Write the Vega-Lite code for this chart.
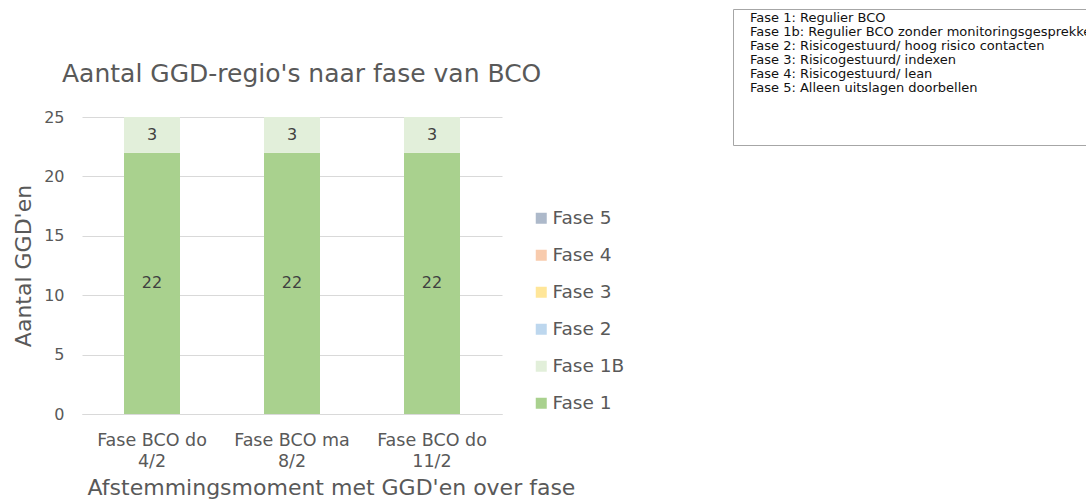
{
  "$schema": "https://vega.github.io/schema/vega-lite/v6.json",
  "autosize": "none",
  "width": 420,
  "height": 297,
  "padding": {"left": 82, "top": 117, "right": 584, "bottom": 90},
  "background": "white",
  "config": {
    "font": "DejaVu Sans",
    "view": {"stroke": null},
    "axis": {"labelColor": "#595959", "titleColor": "#595959", "titleFontWeight": "normal"}
  },
  "title": {
    "text": "Aantal GGD-regio's naar fase van BCO",
    "fontSize": 25,
    "fontWeight": "normal",
    "color": "#595959",
    "anchor": "start",
    "frame": "group",
    "dx": -20,
    "offset": -78
  },
  "datasets": {
    "fasen": [
      {"moment": "Fase BCO do 4/2", "fase": "Fase 1", "aantal": 22},
      {"moment": "Fase BCO do 4/2", "fase": "Fase 1B", "aantal": 3},
      {"moment": "Fase BCO ma 8/2", "fase": "Fase 1", "aantal": 22},
      {"moment": "Fase BCO ma 8/2", "fase": "Fase 1B", "aantal": 3},
      {"moment": "Fase BCO do 11/2", "fase": "Fase 1", "aantal": 22},
      {"moment": "Fase BCO do 11/2", "fase": "Fase 1B", "aantal": 3}
    ],
    "toelichting": [
      {"omschrijving": "Fase 1: Regulier BCO"},
      {"omschrijving": "Fase 1b: Regulier BCO zonder monitoringsgesprekken"},
      {"omschrijving": "Fase 2: Risicogestuurd/ hoog risico contacten"},
      {"omschrijving": "Fase 3: Risicogestuurd/ indexen"},
      {"omschrijving": "Fase 4: Risicogestuurd/ lean"},
      {"omschrijving": "Fase 5: Alleen uitslagen doorbellen"}
    ]
  },
  "layer": [
    {
      "data": {"name": "fasen"},
      "mark": {"type": "bar"},
      "encoding": {
        "x": {
          "field": "moment",
          "type": "nominal",
          "sort": null,
          "scale": {"paddingInner": 0.6, "paddingOuter": 0.3},
          "axis": {
            "title": "Afstemmingsmoment met GGD'en over fase",
            "titleFontSize": 22,
            "titlePadding": 8,
            "titleX": 249,
            "labelAngle": 0,
            "labelFontSize": 17.5,
            "labelLineHeight": 21,
            "labelPadding": 17,
            "labelExpr": "[substring(datum.label, 0, lastindexof(datum.label, ' ')), substring(datum.label, lastindexof(datum.label, ' ') + 1)]",
            "ticks": false,
            "domainColor": "#d9d9d9",
            "domainWidth": 1
          }
        },
        "y": {
          "field": "aantal",
          "type": "quantitative",
          "stack": "zero",
          "scale": {"domain": [0, 25], "nice": false},
          "axis": {
            "title": "Aantal GGD'en",
            "titleFontSize": 22,
            "titlePadding": 8,
            "values": [0, 5, 10, 15, 20, 25],
            "labelFontSize": 16,
            "labelPadding": 18,
            "ticks": false,
            "domain": false,
            "gridColor": "#d9d9d9"
          }
        },
        "color": {
          "field": "fase",
          "type": "nominal",
          "scale": {
            "domain": ["Fase 5", "Fase 4", "Fase 3", "Fase 2", "Fase 1B", "Fase 1"],
            "range": ["#ADB9CA", "#F8CBAD", "#FFE699", "#BDD7EE", "#E2EFDA", "#A9D18E"]
          },
          "legend": {
            "title": null,
            "orient": "none",
            "legendX": 450,
            "legendY": 92,
            "symbolType": "square",
            "symbolSize": 121,
            "symbolStrokeWidth": 0,
            "labelFontSize": 18.5,
            "labelColor": "#595959",
            "labelOffset": 2,
            "rowPadding": 18
          }
        },
        "order": {"field": "fase", "sort": "ascending"}
      }
    },
    {
      "data": {"name": "fasen"},
      "mark": {"type": "text", "fontSize": 16, "color": "#404040", "baseline": "middle"},
      "encoding": {
        "x": {"field": "moment", "type": "nominal", "sort": null},
        "y": {"field": "aantal", "type": "quantitative", "stack": "zero", "bandPosition": 0.5},
        "detail": {"field": "fase"},
        "order": {"field": "fase", "sort": "ascending"},
        "text": {"field": "aantal", "type": "quantitative"}
      }
    },
    {
      "data": {"name": "toelichting"},
      "mark": {"type": "point", "opacity": 0},
      "encoding": {
        "shape": {
          "field": "omschrijving",
          "type": "nominal",
          "sort": null,
          "legend": {
            "title": " ",
            "titleOrient": "bottom",
            "titleFontSize": 10,
            "titlePadding": 38,
            "orient": "none",
            "legendX": 651,
            "legendY": -108,
            "strokeColor": "#a6a6a6",
            "fillColor": "white",
            "padding": 2,
            "symbolSize": 36,
            "symbolOpacity": 0,
            "symbolStrokeWidth": 0,
            "labelOffset": 2,
            "labelFontSize": 13,
            "labelColor": "#111111",
            "labelLimit": 500,
            "rowPadding": 0
          }
        }
      }
    }
  ]
}
